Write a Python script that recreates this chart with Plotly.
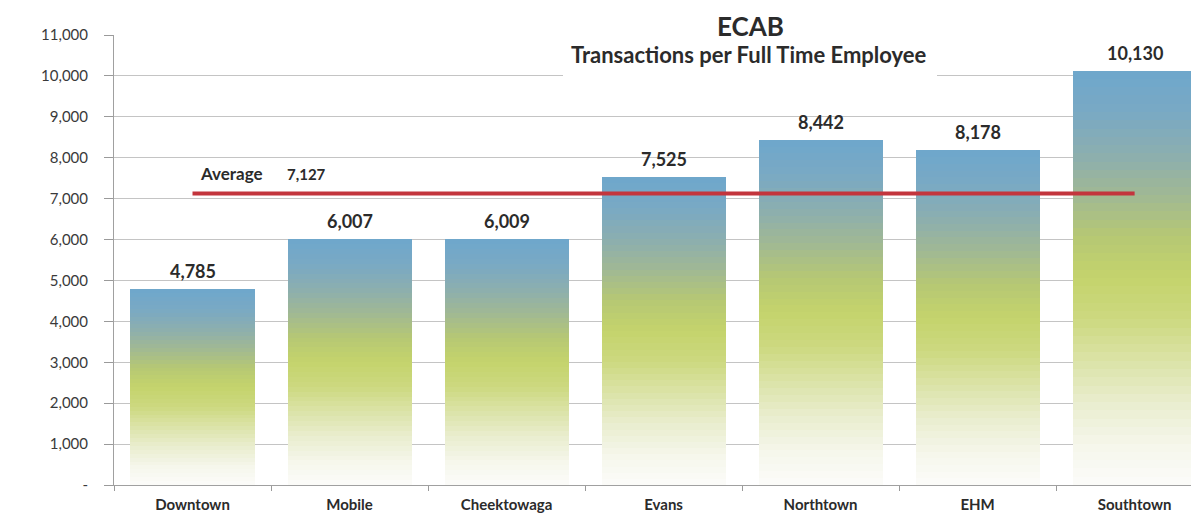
import numpy as np
import plotly.graph_objects as go

# ---------------- data ----------------
categories = ["Downtown", "Mobile", "Cheektowaga", "Evans", "Northtown", "EHM", "Southtown"]
values = [4785, 6007, 6009, 7525, 8442, 8178, 10130]
average_value = 7127
y_tick_values = [0, 1000, 2000, 3000, 4000, 5000, 6000, 7000, 8000, 9000, 10000, 11000]
y_tick_labels = ["-", "1,000", "2,000", "3,000", "4,000", "5,000", "6,000",
                 "7,000", "8,000", "9,000", "10,000", "11,000"]
title_text = "ECAB"
subtitle_text = "Transactions per Full Time Employee"
average_label = "Average"

# ---------------- style ----------------
FONT = "Lato"
OFF = 8  # page body margin that the browser adds around the figure
W, H = 1199 - OFF, 517 - OFF
ML, MR, MT, MB = 114 - OFF, 0, 35 - OFF, 32
PW = W - ML - MR
PH = H - MT - MB

# gradient stops (fraction of bar height from bottom, rgb)
grad_pos = [0.0, 0.1, 0.2, 0.3, 0.4, 0.5, 0.6, 0.7, 0.8, 0.9, 1.0]
grad_rgb = [(252, 252, 250), (245, 246, 234), (233, 237, 206), (219, 227, 167),
            (205, 217, 128), (196, 211, 108), (182, 200, 116), (160, 184, 148),
            (139, 174, 176), (121, 169, 196), (110, 167, 204)]
N_SEG = 50


def grad_color(f):
    r = np.interp(f, grad_pos, [c[0] for c in grad_rgb])
    g = np.interp(f, grad_pos, [c[1] for c in grad_rgb])
    b = np.interp(f, grad_pos, [c[2] for c in grad_rgb])
    return f"rgb({int(round(r))},{int(round(g))},{int(round(b))})"


fig = go.Figure()

# gradient-filled bars: each bar split into N_SEG stacked slices
for k in range(N_SEG):
    f = (k + 0.5) / N_SEG
    fig.add_trace(go.Bar(
        x=categories,
        y=[v / N_SEG for v in values],
        marker=dict(color=grad_color(f), line=dict(width=0)),
        hoverinfo="skip",
        showlegend=False,
    ))

# average line
fig.add_trace(go.Scatter(
    x=categories,
    y=[average_value] * len(categories),
    mode="lines",
    line=dict(color="#C3353D", width=4),
    hoverinfo="skip",
    showlegend=False,
))

# value labels
for c, v in zip(categories, values):
    fig.add_annotation(
        x=c, y=v, text=f"<b>{v:,}</b>", showarrow=False,
        yanchor="bottom", yshift=5,
        font=dict(family=FONT, size=18, color="#2b2b2b"),
    )

# average labels
fig.add_annotation(
    x=categories[0], y=average_value, text=f"<b>{average_label}</b>", showarrow=False,
    xanchor="left", yanchor="bottom", xshift=5, yshift=7,
    font=dict(family=FONT, size=17, color="#2b2b2b"),
)
fig.add_annotation(
    x=categories[0], y=average_value, text=f"<b>{average_value:,}</b>", showarrow=False,
    xanchor="left", yanchor="bottom", xshift=92, yshift=8,
    font=dict(family=FONT, size=15, color="#2b2b2b"),
)


# title block (white backing hides gridlines like the chart title box)
def px_to_paper_x(px):
    return (px - OFF - ML) / PW


def px_to_paper_y(py):
    return (H - MB - (py - OFF)) / PH


fig.add_shape(
    type="rect", xref="paper", yref="paper", layer="above",
    x0=px_to_paper_x(563), x1=px_to_paper_x(937),
    y0=px_to_paper_y(80), y1=px_to_paper_y(18),
    fillcolor="white", line=dict(width=0),
)
fig.add_annotation(
    xref="paper", yref="paper", x=px_to_paper_x(751), y=px_to_paper_y(26),
    text=f"<b>{title_text}</b>", showarrow=False, yanchor="middle",
    font=dict(family=FONT, size=26, color="#2b2b2b"),
)
fig.add_annotation(
    xref="paper", yref="paper", x=px_to_paper_x(749), y=px_to_paper_y(54),
    text=f"<b>{subtitle_text}</b>", showarrow=False, yanchor="middle",
    font=dict(family=FONT, size=22, color="#2b2b2b"),
)

fig.update_layout(
    width=W, height=H,
    margin=dict(l=ML, r=MR, t=MT, b=MB, pad=0),
    barmode="stack", bargap=0.21,
    paper_bgcolor="white", plot_bgcolor="white",
    font=dict(family=FONT, color="#333333"),
    showlegend=False,
)
fig.update_xaxes(
    type="category", range=[-0.5, 6.41],
    tickson="boundaries", ticks="outside", ticklen=5, tickcolor="#9a9a9a",
    showline=True, linecolor="#a0a0a0", linewidth=1,
    showgrid=False,
    tickfont=dict(family=FONT, size=15, color="#2b2b2b", weight="bold"),
    ticklabelstandoff=6,
)
fig.update_yaxes(
    range=[0, 11000], tickvals=y_tick_values, ticktext=y_tick_labels,
    ticks="outside", ticklen=9, tickcolor="#9a9a9a",
    showline=True, linecolor="#a0a0a0", linewidth=1,
    showgrid=True, gridcolor="#c4c4c4", gridwidth=1,
    zeroline=False,
    tickfont=dict(family=FONT, size=15, color="#3a3a3a"),
    ticklabelstandoff=13,
)

fig.write_html("out.html")
